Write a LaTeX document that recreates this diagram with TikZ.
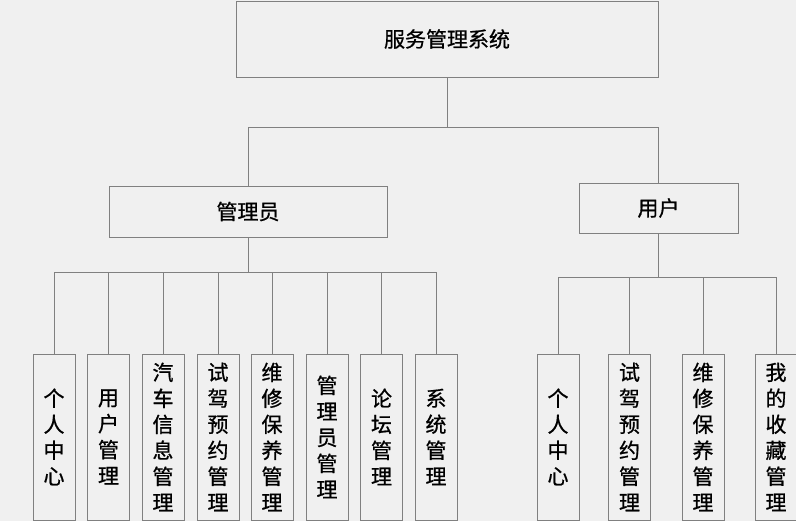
\documentclass[tikz,border=0pt]{standalone}
\usepackage{fontspec}
\setmainfont{Noto Sans CJK SC}[FakeBold=0.8]
\usepackage{tikz}
\usetikzlibrary{positioning}
\definecolor{boxgray}{RGB}{128, 128, 128}
\definecolor{paper}{RGB}{240, 240, 240}

\begin{document}
\begin{tikzpicture}[x=1bp, y=-1bp,
  box/.style={draw=boxgray, line width=0.9bp, inner sep=0pt, font=\fontsize{21bp}{26bp}\selectfont},
  leaf/.style={box, minimum width=42bp, minimum height=166bp, align=center},
  link/.style={boxgray, line width=0.9bp}]
  \fill[paper] (0, 0) rectangle (796, 521);
  \useasboundingbox (0, 0) rectangle (796, 521);

  % Top levels
  \node[box, minimum width=422bp, minimum height=76bp] (sys) at (447, 39) {服务管理系统};
  \node[box, minimum width=278bp, minimum height=51bp] (admin) at (248, 211.5) {管理员};
  \node[box, minimum width=159bp, minimum height=50bp] (user) at (658.5, 208) {用户};

  % Admin modules
  \foreach \i/\x/\t in {1/54/{个\\人\\中\\心}, 2/108.5/{用\\户\\管\\理},
      3/163/{汽\\车\\信\\息\\管\\理}, 4/218/{试\\驾\\预\\约\\管\\理},
      5/272/{维\\修\\保\\养\\管\\理}, 6/327/{管\\理\\员\\管\\理},
      7/381.5/{论\\坛\\管\\理}, 8/436/{系\\统\\管\\理}} {
    \node[leaf] (a\i) at (\x, 437) {\t};
  }

  % User modules
  \foreach \i/\x/\t in {1/558/{个\\人\\中\\心}, 2/629.5/{试\\驾\\预\\约\\管\\理},
      3/703/{维\\修\\保\\养\\管\\理}, 4/776/{我\\的\\收\\藏\\管\\理}} {
    \node[leaf] (u\i) at (\x, 437) {\t};
  }

  % Connectors
  \draw[link] (sys.south) -- ++(0, 50) coordinate (top);
  \draw[link] (admin.north) |- (top) -| (user.north);
  \draw[link] (admin.south) -- ++(0, 35) coordinate (amid);
  \foreach \i in {1,...,8} {
    \draw[link] (amid) -| (a\i.north);
  }
  \draw[link] (user.south) -- ++(0, 44) coordinate (umid);
  \foreach \i in {1,...,4} {
    \draw[link] (umid) -| (u\i.north);
  }
\end{tikzpicture}
\end{document}
